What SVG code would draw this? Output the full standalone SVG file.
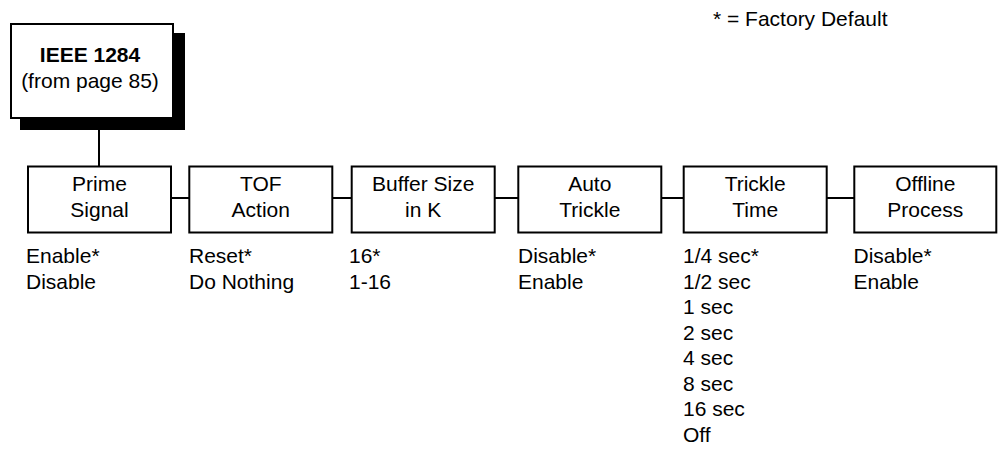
<svg xmlns="http://www.w3.org/2000/svg" width="1003" height="452" viewBox="0 0 1003 452">
<style>
text{font-family:"Liberation Sans",Arial,sans-serif;font-size:21px;fill:#000}
.box{fill:#fff;stroke:#000;stroke-width:2}
.lbl{text-anchor:middle}
.b{font-weight:bold}
.con{stroke:#000;stroke-width:2;fill:none}
</style>
<rect width="1003" height="452" fill="#fff"/>
<text x="713" y="26">* = Factory Default</text>
<g id="connectors">
<line class="con" x1="99" y1="130" x2="99" y2="166"/>
<line class="con" x1="171" y1="198" x2="189" y2="198"/>
<line class="con" x1="333" y1="198" x2="351" y2="198"/>
<line class="con" x1="495" y1="198" x2="518" y2="198"/>
<line class="con" x1="661" y1="198" x2="684" y2="198"/>
<line class="con" x1="827" y1="198" x2="854" y2="198"/>
</g>
<g id="ieee1284">
<rect x="20" y="33" width="165" height="97" fill="#000"/>
<rect class="box" x="11" y="24" width="162" height="94"/>
<text class="lbl b" x="90" y="62">IEEE 1284</text>
<text class="lbl" x="90" y="88">(from page 85)</text>
</g>
<g id="prime-signal">
<rect class="box" x="28" y="166.5" width="143" height="66"/>
<text class="lbl" x="99.5" y="190.5">Prime</text>
<text class="lbl" x="99.5" y="216.5">Signal</text>
<text x="26" y="263">Enable*</text>
<text x="26" y="288.5">Disable</text>
</g>
<g id="tof-action">
<rect class="box" x="189.3" y="166.5" width="143" height="66"/>
<text class="lbl" x="260.8" y="190.5">TOF</text>
<text class="lbl" x="260.8" y="216.5">Action</text>
<text x="189" y="263">Reset*</text>
<text x="189" y="288.5">Do Nothing</text>
</g>
<g id="buffer-size">
<rect class="box" x="351.7" y="166.5" width="143" height="66"/>
<text class="lbl" x="423.2" y="190.5">Buffer Size</text>
<text class="lbl" x="423.2" y="216.5">in K</text>
<text x="349" y="263">16*</text>
<text x="349" y="288.5">1-16</text>
</g>
<g id="auto-trickle">
<rect class="box" x="518.3" y="166.5" width="143" height="66"/>
<text class="lbl" x="589.8" y="190.5">Auto</text>
<text class="lbl" x="589.8" y="216.5">Trickle</text>
<text x="518" y="263">Disable*</text>
<text x="518" y="288.5">Enable</text>
</g>
<g id="trickle-time">
<rect class="box" x="683.7" y="166.5" width="143" height="66"/>
<text class="lbl" x="755.2" y="190.5">Trickle</text>
<text class="lbl" x="755.2" y="216.5">Time</text>
<text x="683" y="263">1/4 sec*</text>
<text x="683" y="288.5">1/2 sec</text>
<text x="683" y="314">1 sec</text>
<text x="683" y="339.5">2 sec</text>
<text x="683" y="365">4 sec</text>
<text x="683" y="390.5">8 sec</text>
<text x="683" y="416">16 sec</text>
<text x="683" y="441.5">Off</text>
</g>
<g id="offline-process">
<rect class="box" x="854.3" y="166.5" width="142" height="66"/>
<text class="lbl" x="925.3" y="190.5">Offline</text>
<text class="lbl" x="925.3" y="216.5">Process</text>
<text x="853.5" y="263">Disable*</text>
<text x="853.5" y="288.5">Enable</text>
</g>
</svg>
